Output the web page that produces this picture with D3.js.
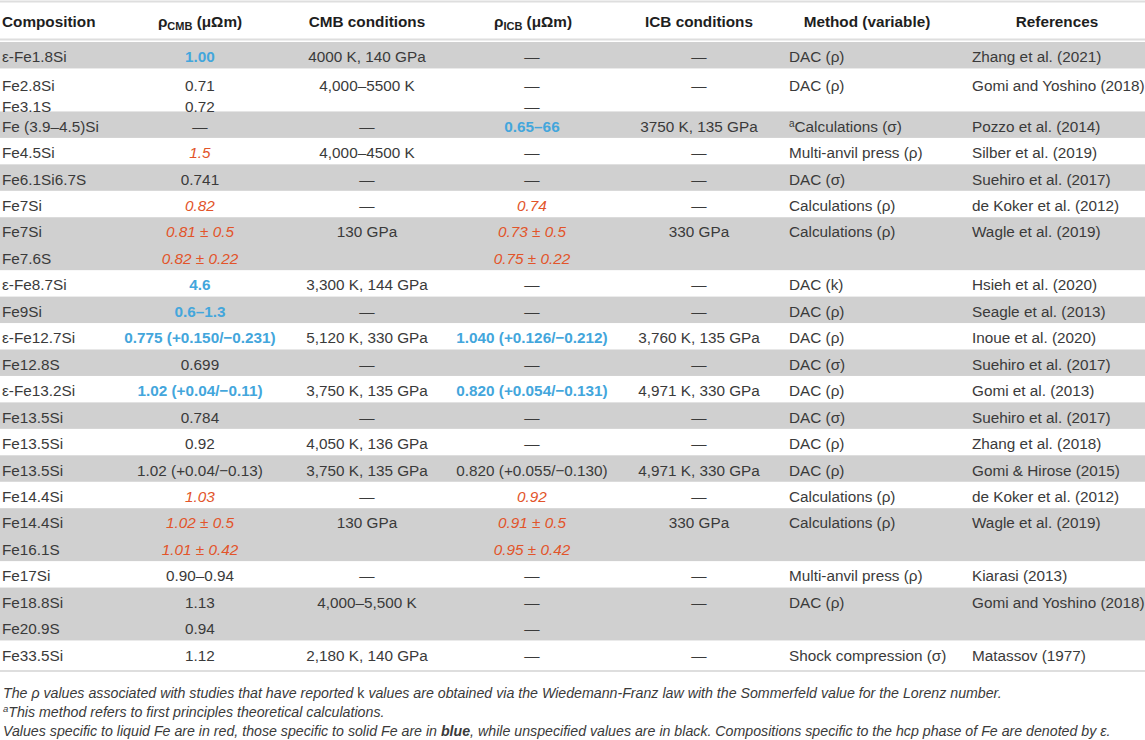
<!DOCTYPE html>
<html><head><meta charset="utf-8">
<script src="https://cdn.jsdelivr.net/npm/d3@7"></script>
<style>
body{margin:0;background:#fff}
svg{display:block}
text{font-family:"Liberation Sans",Arial,Helvetica,sans-serif}
</style>
</head><body><div id="chart"></div>
<script>
// ---------- DATA ----------
const columnKeys = ["comp","rhoCMB","cmbCond","rhoICB","icbCond","method","ref"];
const headerLabels = [
  {main:"Composition"},
  {main:"ρ", sub:"CMB", tail:" (μΩm)"},
  {main:"CMB conditions"},
  {main:"ρ", sub:"ICB", tail:" (μΩm)"},
  {main:"ICB conditions"},
  {main:"Method (variable)"},
  {main:"References"}
];
const compositions = [["ε-Fe1.8Si"],["Fe2.8Si","Fe3.1S"],["Fe (3.9–4.5)Si"],["Fe4.5Si"],["Fe6.1Si6.7S"],["Fe7Si"],["Fe7Si","Fe7.6S"],["ε-Fe8.7Si"],["Fe9Si"],["ε-Fe12.7Si"],["Fe12.8S"],["ε-Fe13.2Si"],["Fe13.5Si"],["Fe13.5Si"],["Fe13.5Si"],["Fe14.4Si"],["Fe14.4Si","Fe16.1S"],["Fe17Si"],["Fe18.8Si","Fe20.9S"],["Fe33.5Si"]];
const rhoCMB = [["1.00"],["0.71","0.72"],["—"],["1.5"],["0.741"],["0.82"],["0.81 ± 0.5","0.82 ± 0.22"],["4.6"],["0.6–1.3"],["0.775 (+0.150/−0.231)"],["0.699"],["1.02 (+0.04/−0.11)"],["0.784"],["0.92"],["1.02 (+0.04/−0.13)"],["1.03"],["1.02 ± 0.5","1.01 ± 0.42"],["0.90–0.94"],["1.13","0.94"],["1.12"]];
const rhoCMBPhase = ["solid","","","liquid","","liquid","liquid","solid","solid","solid","","solid","","","","liquid","liquid","","",""];
const cmbConditions = [["4000 K, 140 GPa"],["4,000–5500 K"],["—"],["4,000–4500 K"],["—"],["—"],["130 GPa"],["3,300 K, 144 GPa"],["—"],["5,120 K, 330 GPa"],["—"],["3,750 K, 135 GPa"],["—"],["4,050 K, 136 GPa"],["3,750 K, 135 GPa"],["—"],["130 GPa"],["—"],["4,000–5,500 K"],["2,180 K, 140 GPa"]];
const rhoICB = [["—"],["—","—"],["0.65–66"],["—"],["—"],["0.74"],["0.73 ± 0.5","0.75 ± 0.22"],["—"],["—"],["1.040 (+0.126/−0.212)"],["—"],["0.820 (+0.054/−0.131)"],["—"],["—"],["0.820 (+0.055/−0.130)"],["0.92"],["0.91 ± 0.5","0.95 ± 0.42"],["—"],["—","—"],["—"]];
const rhoICBPhase = ["","","solid","","","liquid","liquid","","","solid","","solid","","","","liquid","liquid","","",""];
const icbConditions = [["—"],["—"],["3750 K, 135 GPa"],["—"],["—"],["—"],["330 GPa"],["—"],["—"],["3,760 K, 135 GPa"],["—"],["4,971 K, 330 GPa"],["—"],["—"],["4,971 K, 330 GPa"],["—"],["330 GPa"],["—"],["—"],["—"]];
const methods = ["DAC (ρ)","DAC (ρ)","Calculations (σ)","Multi-anvil press (ρ)","DAC (σ)","Calculations (ρ)","Calculations (ρ)","DAC (k)","DAC (ρ)","DAC (ρ)","DAC (σ)","DAC (ρ)","DAC (σ)","DAC (ρ)","DAC (ρ)","Calculations (ρ)","Calculations (ρ)","Multi-anvil press (ρ)","DAC (ρ)","Shock compression (σ)"];
const methodMarks = ["","","a","","","","","","","","","","","","","","","","",""];
const references = ["Zhang et al. (2021)","Gomi and Yoshino (2018)","Pozzo et al. (2014)","Silber et al. (2019)","Suehiro et al. (2017)","de Koker et al. (2012)","Wagle et al. (2019)","Hsieh et al. (2020)","Seagle et al. (2013)","Inoue et al. (2020)","Suehiro et al. (2017)","Gomi et al. (2013)","Suehiro et al. (2017)","Zhang et al. (2018)","Gomi & Hirose (2015)","de Koker et al. (2012)","Wagle et al. (2019)","Kiarasi (2013)","Gomi and Yoshino (2018)","Matassov (1977)"];
const footnotes = [
  [{t:"The ρ values associated with studies that have reported "},{t:"k",upright:true},{t:" values are obtained via the Wiedemann-Franz law with the Sommerfeld value for the Lorenz number."}],
  [{t:"a",sup:true},{t:"This method refers to first principles theoretical calculations."}],
  [{t:"Values specific to liquid Fe are in red, those specific to solid Fe are in "},{t:"blue",bold:true},{t:", while unspecified values are in black. Compositions specific to the hcp phase of Fe are denoted by ε."}]
];

// ---------- LAYOUT ----------
const W = 1145, H = 740;
const FS = 15.3, FFS = 14.2;
const textColor = "#3a3a3a", headColor = "#1e1e1e";
const bandColor = "#d0d0d0", ruleColor = "#dedede";
const phaseColor = d3.scaleOrdinal().domain(["solid","liquid",""]).range(["#43a6dc","#e2542a",textColor]);

const cellX = d3.scaleOrdinal().domain(columnKeys).range([2,200,367,532,699,789,972]);
const cellAnchor = d3.scaleOrdinal().domain(columnKeys).range(["start","middle","middle","middle","middle","start","start"]);
const headX = d3.scaleOrdinal().domain(columnKeys).range([2,200,367,533,699,867,1057]);
const headAnchor = d3.scaleOrdinal().domain(columnKeys).range(["start","middle","middle","middle","middle","middle","middle"]);

const tableTop = 42, pitch = 26.45, compactRows = new Set([1]);
const rowsN = compositions.length;
const rowH = i => compactRows.has(i) ? 43 : compositions[i].length * pitch;
const rowTop = [];
{ let y = tableTop; for (let i = 0; i < rowsN; i++) { rowTop.push(y); y += rowH(i); } rowTop.push(y); }
const lineCenter = (i, j) => compactRows.has(i) ? rowTop[i] + 17 + j * 21 : rowTop[i] + pitch / 2 + 1.5 + j * pitch;
const baseOff = FS * 0.36;

const svg = d3.select("#chart").append("svg").attr("width", W).attr("height", H);

// bands
svg.append("g").selectAll("rect").data(d3.range(rowsN).filter(i => i % 2 === 0)).join("rect")
  .attr("x", 0).attr("width", W).attr("y", i => rowTop[i]).attr("height", i => rowTop[i + 1] - rowTop[i])
  .attr("fill", bandColor);

// rules
const rules = [1.5, 39.5, rowTop[rowsN] + 4];
svg.append("g").selectAll("line").data(rules).join("line")
  .attr("x1", 0).attr("x2", W).attr("y1", d => d).attr("y2", d => d)
  .attr("stroke", ruleColor).attr("stroke-width", 2);

// header
const hg = svg.append("g").attr("font-weight", "bold").attr("font-size", FS).attr("fill", headColor);
headerLabels.forEach((h, k) => {
  const key = columnKeys[k];
  const t = hg.append("text").attr("x", headX(key)).attr("y", 21 + baseOff).attr("text-anchor", headAnchor(key));
  t.append("tspan").text(h.main);
  if (h.sub) {
    t.append("tspan").attr("font-size", 11).attr("dy", 3).text(h.sub);
    t.append("tspan").attr("dy", -3).text(h.tail);
  }
});

// cells
const columnData = {
  comp: i => compositions[i],
  rhoCMB: i => rhoCMB[i],
  cmbCond: i => cmbConditions[i],
  rhoICB: i => rhoICB[i],
  icbCond: i => icbConditions[i],
  method: i => [methods[i]],
  ref: i => [references[i]]
};
const phaseOf = { rhoCMB: i => rhoCMBPhase[i], rhoICB: i => rhoICBPhase[i] };

const cg = svg.append("g").attr("font-size", FS);
for (let i = 0; i < rowsN; i++) {
  columnKeys.forEach(key => {
    columnData[key](i).forEach((val, j) => {
      if (!val) return;
      const ph = (phaseOf[key] && val !== "—") ? phaseOf[key](i) : "";
      const t = cg.append("text")
        .attr("x", cellX(key)).attr("y", lineCenter(i, j) + baseOff)
        .attr("text-anchor", cellAnchor(key))
        .attr("fill", phaseColor(ph))
        .attr("font-weight", ph === "solid" ? "bold" : "normal")
        .attr("font-style", ph === "liquid" ? "italic" : "normal");
      if (key === "method" && methodMarks[i]) {
        t.append("tspan").attr("font-size", 10).attr("dy", -5).text(methodMarks[i]);
        t.append("tspan").attr("dy", 5).text(val);
      } else {
        t.text(val);
      }
    });
  });
}

// footnotes
const fg = svg.append("g").attr("font-size", FFS).attr("font-style", "italic").attr("fill", textColor);
const footY = [693, 712, 731];
footnotes.forEach((parts, k) => {
  const t = fg.append("text").attr("x", 3).attr("y", footY[k] + FFS * 0.35);
  parts.forEach(p => {
    if (p.sup) {
      t.append("tspan").attr("font-size", 9.5).attr("dy", -5).text(p.t);
    } else {
      const s = t.append("tspan").text(p.t);
      if (parts.some(q => q.sup) && parts.indexOf(p) === 1) s.attr("dy", 5);
      if (p.bold) s.attr("font-weight", "bold");
      if (p.upright) s.attr("font-style", "normal");
    }
  });
});
</script>
</body></html>
